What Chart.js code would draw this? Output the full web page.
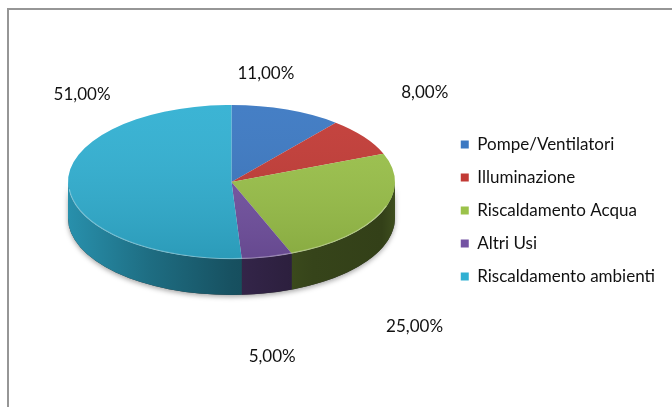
<!DOCTYPE html>
<html>
<head>
<meta charset="utf-8">
<script src="https://cdn.jsdelivr.net/npm/chart.js@4"></script>
<style>
html, body { margin: 0; padding: 0; background: #fff; overflow: hidden; }
#frame { position: absolute; left: 7px; top: 8px; width: 700px; height: 420px; border-left: 2px solid #969696; border-top: 2px solid #969696; }
#wrap { position: absolute; left: 0; top: 0; width: 672px; height: 407px; }
</style>
</head>
<body>
<div id="frame"></div>
<div id="wrap"><canvas id="pie" width="672" height="407"></canvas></div>
<script>
var categories = ['Pompe/Ventilatori', 'Illuminazione', 'Riscaldamento Acqua', 'Altri Usi', 'Riscaldamento ambienti'];
var shares = [11, 8, 25, 5, 51];

var sliceColors = ['#3b78c2', '#c23a35', '#9bc24a', '#7453a3', '#31b0d2'];
// where each % label sits, relative to the rim point at the middle of its slice
var labelNudge = [[-21, -36], [61, -44], [33, 114], [5, 99], [14, -90]];
var PIE = { cx: 231.5, cy: 182, rx: 163.5, ry: 77, depth: 36 };

function shade(hex, f) {
    var n = parseInt(hex.slice(1), 16);
    var r = Math.round(((n >> 16) & 255) * f);
    var g = Math.round(((n >> 8) & 255) * f);
    var b = Math.round((n & 255) * f);
    return 'rgb(' + r + ',' + g + ',' + b + ')';
}

function fmt(v) {
    return v.toFixed(2).replace('.', ',') + '%';
}

var pie3d = {
    id: 'pie3d',
    beforeDatasetsDraw: function(chart) {
        var ctx = chart.ctx;
        var arcs = chart.getDatasetMeta(0).data;

        // soft shadow under the wall
        ctx.save();
        ctx.shadowColor = 'rgba(0,0,0,0.35)';
        ctx.shadowBlur = 5;
        ctx.shadowOffsetY = 2;
        ctx.beginPath();
        ctx.ellipse(PIE.cx, PIE.cy, PIE.rx, PIE.ry, 0, 0, Math.PI);
        ctx.ellipse(PIE.cx, PIE.cy + PIE.depth, PIE.rx, PIE.ry, 0, Math.PI, 0, true);
        ctx.closePath();
        ctx.fillStyle = '#333';
        ctx.fill();
        ctx.restore();

        // side walls, front half only
        ctx.save();
        arcs.forEach(function(arc, i) {
            var a1 = Math.max(arc.startAngle, 0);
            var a2 = Math.min(arc.endAngle, Math.PI);
            if (a2 <= a1) return;
            var g = ctx.createLinearGradient(PIE.cx - PIE.rx, 0, PIE.cx + PIE.rx, 0);
            [[0, 0.82], [0.25, 0.62], [0.5, 0.46], [0.75, 0.35], [0.96, 0.33], [1, 0.4]].forEach(function(s) {
                g.addColorStop(s[0], shade(sliceColors[i], s[1]));
            });
            ctx.beginPath();
            ctx.ellipse(PIE.cx, PIE.cy, PIE.rx, PIE.ry, 0, a1, a2);
            ctx.ellipse(PIE.cx, PIE.cy + PIE.depth, PIE.rx, PIE.ry, 0, a2, a1, true);
            ctx.closePath();
            ctx.fillStyle = g;
            ctx.fill();
        });
        ctx.restore();

        // squash the round pie into the top face
        var a = arcs[0];
        var s = PIE.rx / a.outerRadius;
        ctx.save();
        ctx.translate(PIE.cx, PIE.cy);
        ctx.scale(s, s * PIE.ry / PIE.rx);
        ctx.translate(-a.x, -a.y);
    },
    afterDatasetsDraw: function(chart) {
        var ctx = chart.ctx;
        var arcs = chart.getDatasetMeta(0).data;
        var a = arcs[0];

        var g = ctx.createLinearGradient(0, a.y - a.outerRadius, 0, a.y + a.outerRadius);
        g.addColorStop(0, 'rgba(255,255,255,0.05)');
        g.addColorStop(1, 'rgba(0,0,0,0.12)');
        ctx.beginPath();
        ctx.arc(a.x, a.y, a.outerRadius, 0, Math.PI * 2);
        ctx.fillStyle = g;
        ctx.fill();
        ctx.restore();

        // light rim on the front edge
        ctx.save();
        ctx.beginPath();
        ctx.ellipse(PIE.cx, PIE.cy, PIE.rx - 0.5, PIE.ry - 0.5, 0, 0.1 * Math.PI, 0.97 * Math.PI);
        ctx.strokeStyle = 'rgba(255,255,255,0.3)';
        ctx.lineWidth = 1.2;
        ctx.stroke();
        ctx.restore();

        // percentage labels
        ctx.save();
        ctx.font = '17px Lato';
        ctx.fillStyle = '#111';
        ctx.textAlign = 'center';
        ctx.textBaseline = 'middle';
        arcs.forEach(function(arc, i) {
            var mid = (arc.startAngle + arc.endAngle) / 2;
            var x = PIE.cx + PIE.rx * Math.cos(mid) + labelNudge[i][0];
            var y = PIE.cy + PIE.ry * Math.sin(mid) + labelNudge[i][1];
            ctx.fillText(fmt(shares[i]), x, y);
        });
        ctx.restore();
    }
};

new Chart(document.getElementById('pie'), {
    type: 'pie',
    data: {
        labels: categories,
        datasets: [{
            data: shares,
            backgroundColor: sliceColors,
            borderWidth: 0
        }]
    },
    options: {
        responsive: false,
        animation: false,
        devicePixelRatio: 1,
        layout: { padding: { top: 14, right: 7, left: 0, bottom: 0 } },
        plugins: {
            tooltip: { enabled: false },
            legend: {
                position: 'right',
                labels: { boxWidth: 8, boxHeight: 8, padding: 16, color: '#111', font: { family: 'Lato', size: 17 } }
            }
        }
    },
    plugins: [pie3d]
});
</script>
</body>
</html>
